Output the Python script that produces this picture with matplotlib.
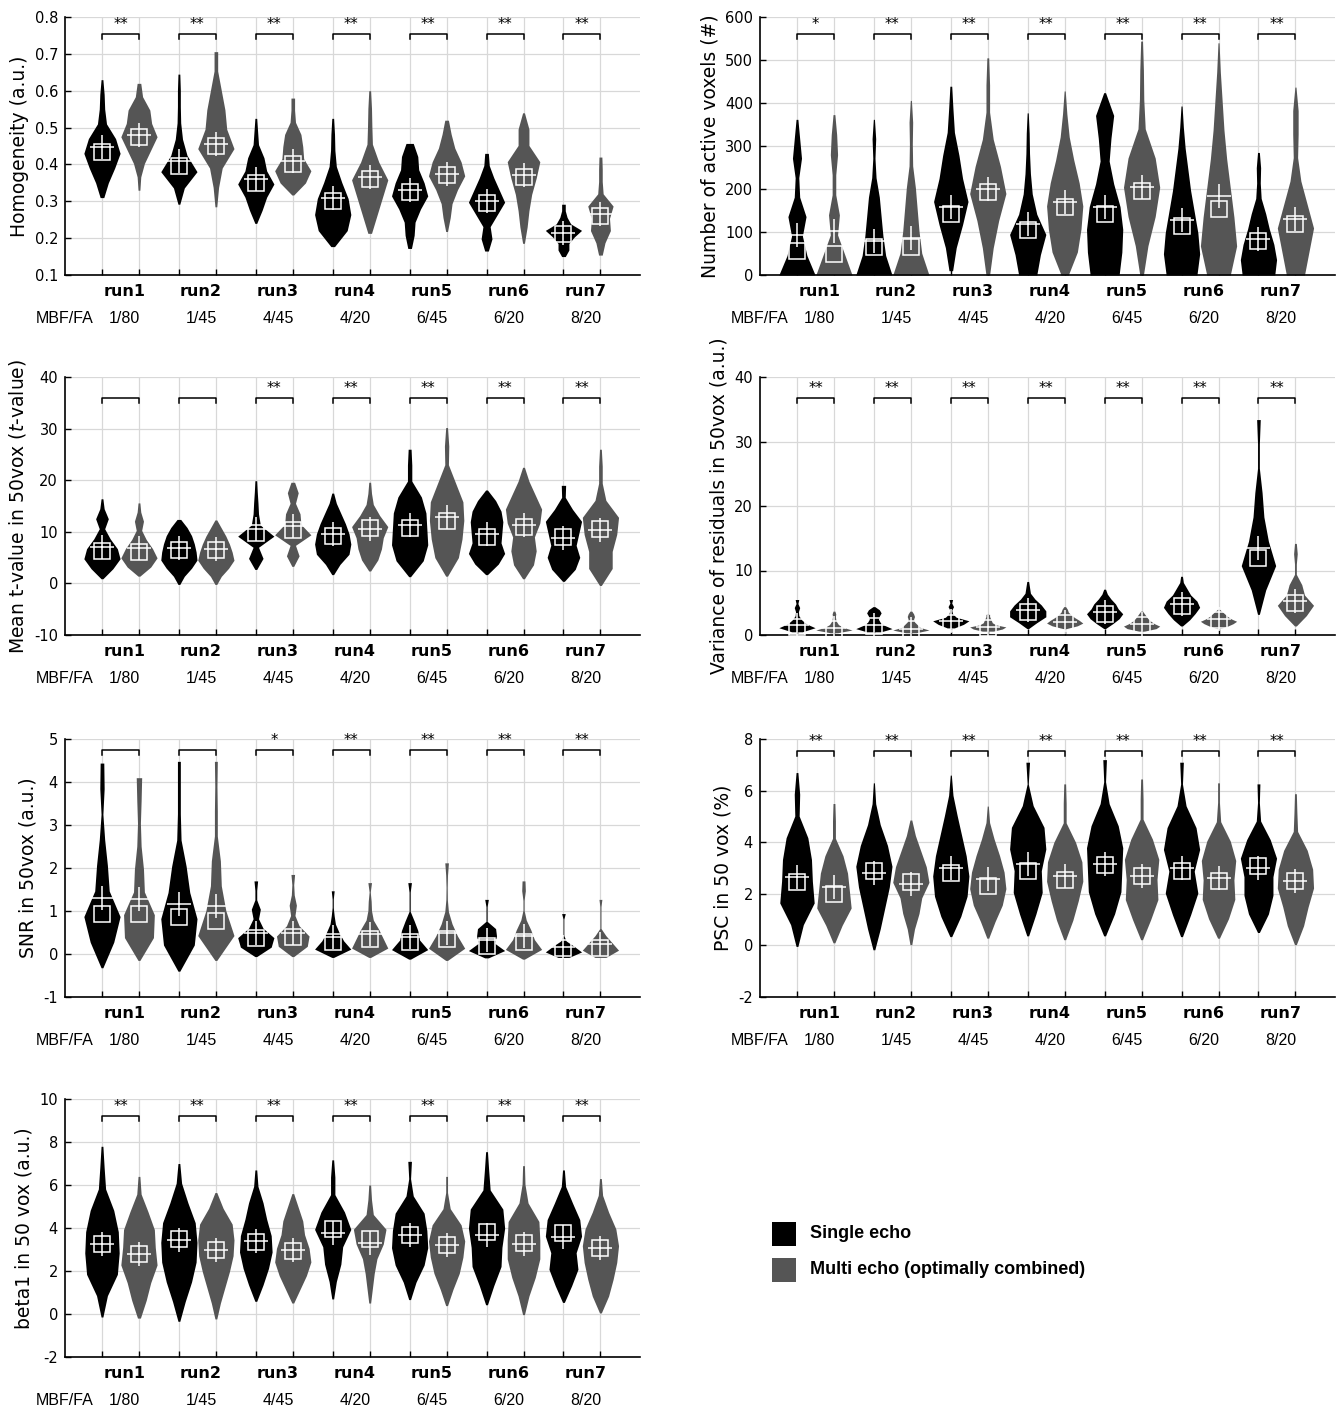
import numpy as np
import matplotlib
matplotlib.use('Agg')
import matplotlib.pyplot as plt
from matplotlib.patches import Rectangle

runs = ['run1', 'run2', 'run3', 'run4', 'run5', 'run6', 'run7']
mbf_fa = ['1/80', '1/45', '4/45', '4/20', '6/45', '6/20', '8/20']

# order of every list: run1 single, run1 multi, run2 single, run2 multi, ...
# lo/hi = range of each violin, shape = relative width at evenly spaced levels
# mean is drawn as '+', median as the square

# Homogeneity
hom_lo = [0.31, 0.33, 0.292, 0.285, 0.24, 0.317, 0.177, 0.213, 0.172, 0.218, 0.165, 0.186, 0.15, 0.154]
hom_hi = [0.63, 0.62, 0.645, 0.706, 0.525, 0.58, 0.525, 0.60, 0.457, 0.52, 0.43, 0.54, 0.292, 0.42]
hom_mean = [0.446, 0.48, 0.41, 0.455, 0.36, 0.41, 0.31, 0.365, 0.33, 0.375, 0.30, 0.37, 0.215, 0.265]
hom_med = [0.433, 0.475, 0.395, 0.45, 0.35, 0.40, 0.30, 0.36, 0.325, 0.37, 0.295, 0.365, 0.21, 0.26]
hom_shape = [
    [0.1, 0.35, 0.7, 1.0, 0.75, 0.25, 0.15, 0.12, 0.05],
    [0.05, 0.1, 0.3, 0.65, 1.0, 0.7, 0.6, 0.2, 0.1],
    [0.05, 0.3, 1.0, 0.45, 0.2, 0.1, 0.08, 0.08, 0.05],
    [0.05, 0.15, 0.35, 1.0, 0.6, 0.5, 0.3, 0.1, 0.1],
    [0.05, 0.35, 0.6, 1.0, 0.6, 0.45, 0.15, 0.1, 0.05],
    [0.05, 0.7, 1.0, 0.6, 0.55, 0.45, 0.15, 0.1, 0.1],
    [0.1, 0.8, 1.0, 0.85, 0.5, 0.2, 0.12, 0.1, 0.05],
    [0.1, 0.4, 0.7, 1.0, 0.5, 0.15, 0.12, 0.1, 0.05],
    [0.1, 0.25, 0.3, 0.6, 1.0, 0.8, 0.5, 0.45, 0.2],
    [0.05, 0.2, 0.3, 0.6, 1.0, 0.8, 0.45, 0.25, 0.1],
    [0.1, 0.3, 0.2, 0.6, 1.0, 0.7, 0.4, 0.15, 0.1],
    [0.05, 0.2, 0.3, 0.45, 0.7, 0.9, 0.3, 0.3, 0.05],
    [0.1, 0.3, 0.3, 0.6, 1.0, 0.4, 0.2, 0.1, 0.1],
    [0.1, 0.25, 0.55, 0.5, 0.7, 0.15, 0.1, 0.1, 0.08],
]
hom_stars = ['**'] * 7

# Number of active voxels
vox_lo = [0, 0, 0, 0, 10, 0, 0, 0, 0, 0, 0, 0, 0, 0]
vox_hi = [362, 373, 362, 406, 439, 505, 377, 428, 424, 544, 393, 540, 285, 437]
vox_mean = [92, 103, 80, 87, 157, 200, 118, 169, 158, 205, 127, 184, 83, 130]
vox_med = [55, 49, 64, 66, 141, 192, 104, 157, 143, 196, 114, 153, 78, 118]
vox_shape = [
    [1.0, 0.55, 0.3, 0.5, 0.15, 0.1, 0.25, 0.15, 0.05],
    [1.0, 0.6, 0.2, 0.3, 0.1, 0.1, 0.2, 0.15, 0.05],
    [1.0, 0.65, 0.5, 0.4, 0.3, 0.12, 0.06, 0.1, 0.03],
    [1.0, 0.6, 0.45, 0.35, 0.25, 0.1, 0.08, 0.1, 0.03],
    [0.1, 0.3, 0.65, 0.95, 0.65, 0.45, 0.2, 0.12, 0.05],
    [0.1, 0.3, 0.6, 1.0, 0.7, 0.3, 0.1, 0.1, 0.05],
    [0.5, 0.7, 1.0, 0.5, 0.25, 0.15, 0.1, 0.08, 0.03],
    [0.2, 0.7, 0.9, 1.0, 0.8, 0.5, 0.25, 0.12, 0.03],
    [0.8, 0.95, 1.0, 0.85, 0.5, 0.25, 0.35, 0.5, 0.05],
    [0.1, 0.35, 0.75, 1.0, 0.75, 0.2, 0.12, 0.1, 0.05],
    [0.85, 1.0, 0.9, 0.7, 0.5, 0.35, 0.2, 0.1, 0.03],
    [0.65, 1.0, 0.85, 0.65, 0.45, 0.3, 0.2, 0.1, 0.03],
    [0.9, 1.0, 0.85, 0.6, 0.4, 0.15, 0.1, 0.12, 0.05],
    [0.5, 0.75, 1.0, 0.65, 0.3, 0.12, 0.15, 0.15, 0.03],
]
vox_stars = ['*', '**', '**', '**', '**', '**', '**']

# Mean t-value in 50vox
tval_lo = [0.9, 1.4, -0.2, -0.2, 2.7, 3.3, 1.7, 2.4, 1.3, 1.4, 1.7, 0.9, 0.4, -0.4]
tval_hi = [16.4, 15.6, 12.4, 12.3, 19.9, 19.6, 17.5, 19.6, 26, 30.2, 18.1, 22.5, 19, 26]
tval_mean = [7.1, 6.8, 6.8, 6.7, 10.6, 11.2, 9.6, 10.5, 11.4, 12.8, 9.6, 11.3, 8.8, 10.4]
tval_med = [6.2, 6.0, 6.5, 6.5, 9.8, 10.4, 9.1, 10.7, 10.7, 12.1, 8.9, 11.0, 8.9, 10.5]
tval_shape = [
    [0.05, 0.6, 1.0, 0.85, 0.45, 0.15, 0.35, 0.12, 0.05],
    [0.05, 0.65, 1.0, 0.75, 0.4, 0.15, 0.25, 0.1, 0.05],
    [0.05, 0.3, 0.7, 1.0, 0.95, 0.85, 0.7, 0.45, 0.1],
    [0.05, 0.3, 0.7, 1.0, 0.9, 0.75, 0.55, 0.3, 0.05],
    [0.05, 0.4, 0.15, 1.0, 0.25, 0.15, 0.12, 0.08, 0.05],
    [0.05, 0.35, 0.15, 1.0, 0.45, 0.4, 0.15, 0.3, 0.1],
    [0.05, 0.4, 0.9, 1.0, 0.9, 0.7, 0.45, 0.2, 0.05],
    [0.05, 0.45, 0.65, 0.75, 1.0, 0.55, 0.2, 0.1, 0.05],
    [0.05, 0.75, 1.0, 0.95, 0.9, 0.65, 0.12, 0.12, 0.08],
    [0.05, 0.65, 0.85, 0.95, 0.9, 0.5, 0.1, 0.12, 0.05],
    [0.05, 0.65, 1.0, 0.8, 0.85, 0.9, 0.8, 0.5, 0.05],
    [0.05, 0.55, 0.7, 0.6, 0.9, 1.0, 0.65, 0.3, 0.05],
    [0.05, 0.65, 0.9, 0.7, 0.85, 1.0, 0.5, 0.1, 0.12],
    [0.05, 0.65, 0.65, 0.9, 1.0, 0.3, 0.1, 0.1, 0.05],
]
tval_stars = ['', '', '**', '**', '**', '**', '**']

# Variance of residuals in 50vox
var_lo = [0.5, 0.35, 0.5, 0.35, 1.1, 0.6, 1.0, 1.0, 1.0, 0.6, 1.4, 1.0, 3.2, 1.4]
var_hi = [5.5, 3.7, 4.4, 3.7, 5.5, 3.2, 8.3, 4.4, 7.1, 3.7, 9.1, 4.0, 33.4, 14.2]
var_mean = [1.5, 1.1, 1.5, 1.0, 2.1, 1.25, 3.9, 2.0, 3.6, 1.7, 4.8, 2.5, 13.5, 5.2]
var_med = [1.2, 0.9, 1.4, 0.9, 1.9, 1.15, 3.6, 1.8, 3.2, 1.6, 4.5, 2.3, 12.0, 4.9]
var_shape = [
    [0.3, 1.0, 0.5, 0.25, 0.1, 0.08, 0.15, 0.05, 0.1],
    [0.2, 1.0, 0.5, 0.25, 0.15, 0.1, 0.08, 0.1, 0.05],
    [0.4, 1.0, 0.6, 0.35, 0.25, 0.3, 0.4, 0.3, 0.05],
    [0.3, 1.0, 0.5, 0.35, 0.2, 0.15, 0.2, 0.15, 0.05],
    [0.2, 0.7, 1.0, 0.3, 0.1, 0.05, 0.15, 0.05, 0.1],
    [0.3, 0.8, 1.0, 0.45, 0.25, 0.2, 0.15, 0.1, 0.1],
    [0.05, 0.5, 1.0, 1.0, 0.75, 0.4, 0.15, 0.1, 0.05],
    [0.1, 0.7, 1.0, 0.8, 0.55, 0.35, 0.2, 0.15, 0.05],
    [0.05, 0.45, 0.8, 1.0, 0.75, 0.6, 0.35, 0.15, 0.05],
    [0.15, 0.8, 1.0, 0.7, 0.5, 0.35, 0.25, 0.15, 0.05],
    [0.05, 0.45, 0.75, 1.0, 0.85, 0.5, 0.3, 0.1, 0.05],
    [0.1, 0.5, 0.8, 1.0, 0.7, 0.5, 0.35, 0.2, 0.05],
    [0.05, 0.4, 0.95, 0.55, 0.3, 0.2, 0.05, 0.05, 0.1],
    [0.05, 0.6, 1.0, 0.5, 0.35, 0.05, 0.05, 0.1, 0.05],
]
var_stars = ['**'] * 7

# SNR in 50vox
snr_lo = [-0.32, -0.15, -0.4, -0.15, -0.06, -0.06, -0.08, -0.08, -0.12, -0.15, -0.09, -0.12, -0.08, -0.08]
snr_hi = [4.44, 4.1, 4.48, 4.48, 1.7, 1.85, 1.47, 1.66, 1.66, 2.12, 1.27, 1.7, 0.94, 1.27]
snr_mean = [1.31, 1.27, 1.16, 1.12, 0.5, 0.5, 0.4, 0.46, 0.39, 0.48, 0.32, 0.42, 0.17, 0.23]
snr_med = [0.94, 0.93, 0.85, 0.77, 0.37, 0.39, 0.27, 0.35, 0.27, 0.35, 0.19, 0.29, 0.14, 0.15]
snr_shape = [
    [0.05, 0.65, 1.0, 0.4, 0.3, 0.15, 0.05, 0.12, 0.1],
    [0.05, 0.8, 0.85, 0.3, 0.25, 0.12, 0.08, 0.12, 0.15],
    [0.05, 0.85, 1.0, 0.6, 0.4, 0.12, 0.08, 0.08, 0.08],
    [0.05, 1.0, 0.55, 0.3, 0.25, 0.08, 0.08, 0.06, 0.08],
    [0.05, 0.85, 1.0, 0.4, 0.15, 0.25, 0.05, 0.05, 0.1],
    [0.05, 0.8, 0.9, 0.35, 0.12, 0.2, 0.08, 0.05, 0.1],
    [0.05, 1.0, 0.6, 0.35, 0.15, 0.08, 0.03, 0.03, 0.08],
    [0.05, 1.0, 0.75, 0.5, 0.2, 0.1, 0.08, 0.03, 0.1],
    [0.05, 1.0, 0.55, 0.45, 0.25, 0.03, 0.03, 0.03, 0.1],
    [0.05, 1.0, 0.6, 0.3, 0.1, 0.04, 0.03, 0.05, 0.1],
    [0.1, 1.0, 0.45, 0.55, 0.5, 0.03, 0.03, 0.03, 0.1],
    [0.05, 1.0, 0.6, 0.4, 0.15, 0.03, 0.03, 0.1, 0.08],
    [0.3, 1.0, 0.6, 0.15, 0.02, 0.02, 0.02, 0.02, 0.1],
    [0.3, 1.0, 0.65, 0.3, 0.03, 0.03, 0.03, 0.03, 0.08],
]
snr_stars = ['', '', '*', '**', '**', '**', '**']

# PSC in 50 vox
psc_lo = [-0.04, 0.1, -0.17, 0.03, 0.34, 0.28, 0.37, 0.22, 0.37, 0.22, 0.34, 0.28, 0.5, 0.03]
psc_hi = [6.7, 5.5, 6.3, 4.86, 6.6, 5.4, 7.1, 6.26, 7.2, 6.45, 7.1, 6.3, 6.26, 5.88]
psc_mean = [2.66, 2.25, 2.82, 2.38, 3.0, 2.57, 3.14, 2.7, 3.14, 2.7, 3.0, 2.63, 2.99, 2.5]
psc_med = [2.44, 2.0, 2.89, 2.44, 2.82, 2.3, 2.89, 2.53, 3.1, 2.7, 2.89, 2.48, 3.08, 2.5]
psc_shape = [
    [0.05, 0.35, 0.95, 0.85, 0.8, 0.6, 0.12, 0.15, 0.05],
    [0.05, 0.45, 0.95, 0.85, 0.75, 0.5, 0.08, 0.08, 0.05],
    [0.05, 0.35, 0.6, 0.85, 1.0, 0.75, 0.35, 0.1, 0.03],
    [0.05, 0.2, 0.45, 0.6, 1.0, 0.85, 0.55, 0.25, 0.05],
    [0.05, 0.55, 0.9, 1.0, 0.85, 0.6, 0.35, 0.12, 0.03],
    [0.05, 0.4, 0.8, 1.0, 0.9, 0.65, 0.35, 0.1, 0.03],
    [0.05, 0.45, 0.8, 0.75, 1.0, 0.9, 0.3, 0.03, 0.1],
    [0.05, 0.45, 0.75, 1.0, 0.95, 0.6, 0.08, 0.08, 0.05],
    [0.05, 0.55, 0.9, 0.95, 1.0, 0.75, 0.25, 0.05, 0.1],
    [0.05, 0.5, 0.9, 0.85, 0.95, 0.6, 0.08, 0.08, 0.05],
    [0.05, 0.5, 0.9, 0.7, 1.0, 0.8, 0.25, 0.05, 0.1],
    [0.05, 0.55, 0.9, 0.85, 0.95, 0.65, 0.12, 0.05, 0.05],
    [0.05, 0.55, 0.8, 0.8, 1.0, 0.65, 0.12, 0.05, 0.08],
    [0.05, 0.45, 0.7, 1.0, 0.95, 0.65, 0.12, 0.08, 0.05],
]
psc_stars = ['**'] * 7

# beta1 in 50 vox
beta_lo = [-0.14, -0.19, -0.34, -0.23, 0.59, 0.51, 0.7, 0.51, 0.67, 0.39, 0.43, -0.03, 0.54, 0.05]
beta_hi = [7.8, 6.4, 7.0, 5.65, 6.7, 5.6, 7.17, 6.0, 7.1, 6.4, 7.55, 6.9, 6.7, 6.3]
beta_mean = [3.27, 2.8, 3.45, 2.96, 3.4, 2.98, 3.77, 3.3, 3.69, 3.2, 3.69, 3.27, 3.58, 3.07]
beta_med = [3.27, 2.8, 3.49, 2.96, 3.36, 2.95, 3.95, 3.49, 3.69, 3.19, 3.8, 3.3, 3.77, 3.07]
beta_shape = [
    [0.05, 0.3, 0.85, 0.95, 0.9, 0.65, 0.2, 0.12, 0.05],
    [0.08, 0.4, 0.65, 1.0, 0.9, 0.85, 0.5, 0.12, 0.05],
    [0.05, 0.35, 0.7, 0.95, 1.0, 0.9, 0.5, 0.15, 0.05],
    [0.05, 0.25, 0.5, 0.75, 0.95, 1.0, 0.9, 0.4, 0.05],
    [0.05, 0.4, 0.7, 0.9, 0.85, 0.6, 0.4, 0.12, 0.05],
    [0.05, 0.4, 0.75, 1.0, 0.9, 0.65, 0.55, 0.3, 0.05],
    [0.05, 0.2, 0.45, 0.55, 1.0, 0.65, 0.12, 0.12, 0.05],
    [0.05, 0.15, 0.25, 0.4, 0.75, 0.9, 0.2, 0.1, 0.05],
    [0.05, 0.35, 0.8, 1.0, 0.95, 0.8, 0.2, 0.05, 0.1],
    [0.05, 0.35, 0.7, 0.9, 1.0, 0.8, 0.2, 0.05, 0.05],
    [0.05, 0.4, 0.8, 0.85, 1.0, 0.9, 0.2, 0.12, 0.05],
    [0.05, 0.3, 0.65, 0.9, 0.9, 0.85, 0.25, 0.08, 0.05],
    [0.05, 0.45, 0.8, 0.7, 1.0, 0.9, 0.5, 0.12, 0.05],
    [0.05, 0.45, 0.7, 0.9, 1.0, 0.85, 0.45, 0.12, 0.05],
]
beta_stars = ['**'] * 7

BLACK = '#000000'
GRAY = '#555555'
half = 0.49

x_single = 1 + 2.08 * np.arange(7)
pos = np.column_stack([x_single, x_single + 1]).ravel()


def panel(ax, lo, hi, mean, med, shape, ylim, yticks, ylabel, stars, bar_y, fmt='{:g}'):
    for k in range(14):
        y = np.linspace(lo[k], hi[k], len(shape[k]))
        w = np.array(shape[k]) * half
        col = BLACK if k % 2 == 0 else GRAY
        ax.fill_betweenx(y, pos[k] - w, pos[k] + w, color=col, lw=0, zorder=2)
        ax.plot(pos[k], med[k], 's', ms=12, mfc='none', mec='white', mew=1.1, zorder=3)
        ax.plot(pos[k], mean[k], '+', ms=17, mec='white', mew=1.1, zorder=3)

    rng = ylim[1] - ylim[0]
    tick = rng * 0.02
    for i in range(7):
        a, b = pos[2 * i], pos[2 * i + 1]
        ax.plot([a, a, b, b], [bar_y - tick, bar_y, bar_y, bar_y - tick], color='black', lw=1.1, zorder=4)
        if stars[i]:
            ax.text((a + b) / 2, bar_y + rng * 0.008, stars[i], ha='center', va='bottom', fontsize=10.5)
        xc = (a + b) / 2 + 0.1
        ax.annotate(runs[i], xy=(xc, 0), xycoords=('data', 'axes fraction'), xytext=(0, -12),
                    textcoords='offset points', ha='center', va='center', fontsize=11.5, fontweight='bold')
        ax.annotate(mbf_fa[i], xy=(xc, 0), xycoords=('data', 'axes fraction'), xytext=(0, -31),
                    textcoords='offset points', ha='center', va='center', fontsize=11.5,
                    family='Liberation Sans')
    ax.annotate('MBF/FA', xy=(0, 0), xycoords=('data', 'axes fraction'), xytext=(0, -31),
                textcoords='offset points', ha='center', va='center', fontsize=11.5, family='Liberation Sans')

    ax.set_xlim(0, 15.55)
    ax.set_ylim(*ylim)
    ax.set_xticks(pos)
    ax.set_xticklabels([])
    ax.set_yticks(yticks)
    ax.set_yticklabels([fmt.format(v) for v in yticks])
    ax.grid(True, color='#d8d8d8', lw=0.9)
    ax.set_axisbelow(True)
    ax.spines['top'].set_visible(False)
    ax.spines['right'].set_visible(False)
    for s in ['left', 'bottom']:
        ax.spines[s].set_linewidth(1.2)
    ax.tick_params(direction='in', length=4, width=1, labelsize=10.5, pad=5)
    ax.set_ylabel(ylabel, fontsize=13.5)


fig = plt.figure(figsize=(13.38, 14.11), dpi=100)
W, H = 1338, 1411
cols = [65, 760]
tops = [17, 377, 739, 1099]
ph = 258
pw = 575


def make_ax(c, r):
    return fig.add_axes([cols[c] / W, 1 - (tops[r] + ph) / H, pw / W, ph / H])


panel(make_ax(0, 0), hom_lo, hom_hi, hom_mean, hom_med, hom_shape, (0.1, 0.8),
      np.arange(0.1, 0.81, 0.1), 'Homogeneity (a.u.)', hom_stars, 0.754, '{:.1f}')
panel(make_ax(1, 0), vox_lo, vox_hi, vox_mean, vox_med, vox_shape, (0, 600),
      np.arange(0, 601, 100), 'Number of active voxels (#)', vox_stars, 561)
panel(make_ax(0, 1), tval_lo, tval_hi, tval_mean, tval_med, tval_shape, (-10, 40),
      np.arange(-10, 41, 10), r'Mean t-value in 50vox ($\it{t}$-value)', tval_stars, 36)
panel(make_ax(1, 1), var_lo, var_hi, var_mean, var_med, var_shape, (0, 40),
      np.arange(0, 41, 10), 'Variance of residuals in 50vox (a.u.)', var_stars, 36.8)
panel(make_ax(0, 2), snr_lo, snr_hi, snr_mean, snr_med, snr_shape, (-1, 5),
      np.arange(-1, 6, 1), 'SNR in 50vox (a.u.)', snr_stars, 4.75)
panel(make_ax(1, 2), psc_lo, psc_hi, psc_mean, psc_med, psc_shape, (-2, 8),
      np.arange(-2, 9, 2), 'PSC in 50 vox (%)', psc_stars, 7.53)
panel(make_ax(0, 3), beta_lo, beta_hi, beta_mean, beta_med, beta_shape, (-2, 10),
      np.arange(-2, 11, 2), 'beta1 in 50 vox (a.u.)', beta_stars, 9.2)

# legend
for yy, col, lab in [(1222, BLACK, 'Single echo'), (1258, GRAY, 'Multi echo (optimally combined)')]:
    fig.add_artist(Rectangle((772 / W, 1 - (yy + 24) / H), 24 / W, 24 / H,
                             transform=fig.transFigure, color=col, lw=0))
    fig.text(810 / W, 1 - (yy + 12) / H, lab, fontsize=13, fontweight='bold',
             family='Liberation Sans', va='center', ha='left')

fig.savefig('out.png', dpi=100)
